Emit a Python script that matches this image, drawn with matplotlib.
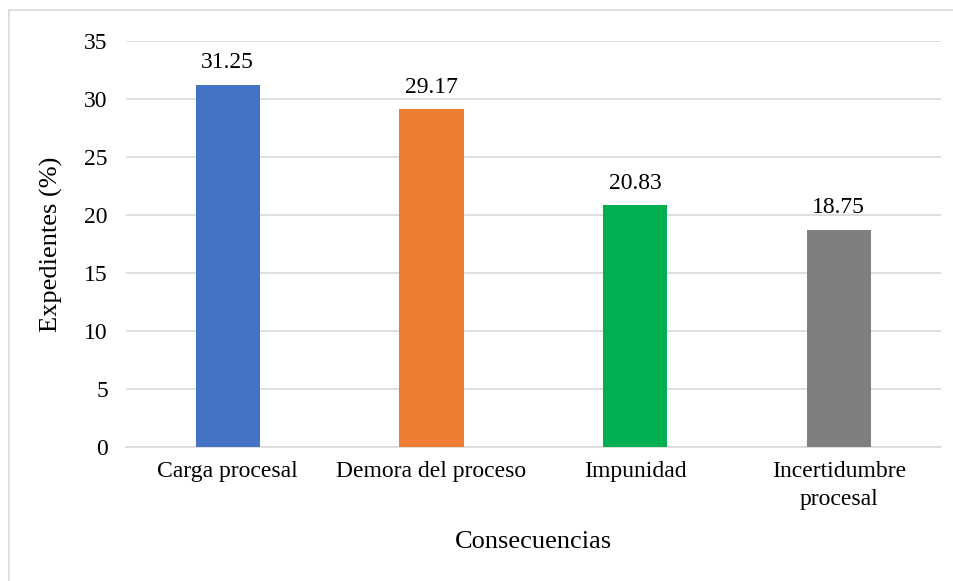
import matplotlib.pyplot as plt
from matplotlib.patches import Rectangle

plt.rcParams['font.family'] = ['Liberation Serif', 'DejaVu Serif']

categorias = ['Carga procesal', 'Demora del proceso', 'Impunidad', 'Incertidumbre\nprocesal']
porcentajes = [31.25, 29.17, 20.83, 18.75]
colores = ['#4472C4', '#ED7D31', '#00B050', '#7F7F7F']
y_ticks = [0, 5, 10, 15, 20, 25, 30, 35]

fig = plt.figure(figsize=(9.54, 5.81), dpi=100)
ax = fig.add_axes([0.132, 0.2306, 0.854, 0.6988])

x = range(len(categorias))
bars = ax.bar(x, porcentajes, width=0.315, color=colores, zorder=3)

for b, v in zip(bars, porcentajes):
    ax.annotate(f'{v:.2f}', (b.get_x() + b.get_width() / 2, v),
                xytext=(0, 8), textcoords='offset points',
                ha='center', va='bottom', fontsize=17)

ax.set_xlim(-0.5, len(categorias) - 0.5)
ax.set_ylim(0, 35)
ax.set_yticks(y_ticks)
ax.set_xticks(list(x))
ax.set_xticklabels(categorias, fontsize=17, linespacing=1.45)
ax.tick_params(axis='y', labelsize=17, length=0, pad=13)
ax.tick_params(axis='x', length=0, pad=10)
ax.grid(axis='y', color='#D9D9D9', linewidth=1.2, zorder=0)

for s in ['top', 'right', 'left']:
    ax.spines[s].set_visible(False)
ax.spines['bottom'].set_color('#D9D9D9')
ax.spines['bottom'].set_linewidth(1.2)

ax.set_xlabel('Consecuencias', fontsize=19, labelpad=15)
ax.set_ylabel('Expedientes (%)', fontsize=19, labelpad=15)

# borde exterior del gráfico
fig.patches.append(Rectangle((9 / 954, -0.05), 1.1, 1 - 10 / 581 + 0.05,
                             transform=fig.transFigure, fill=False,
                             edgecolor='#D9D9D9', linewidth=1.2))

fig.savefig('out.png', dpi=100)
